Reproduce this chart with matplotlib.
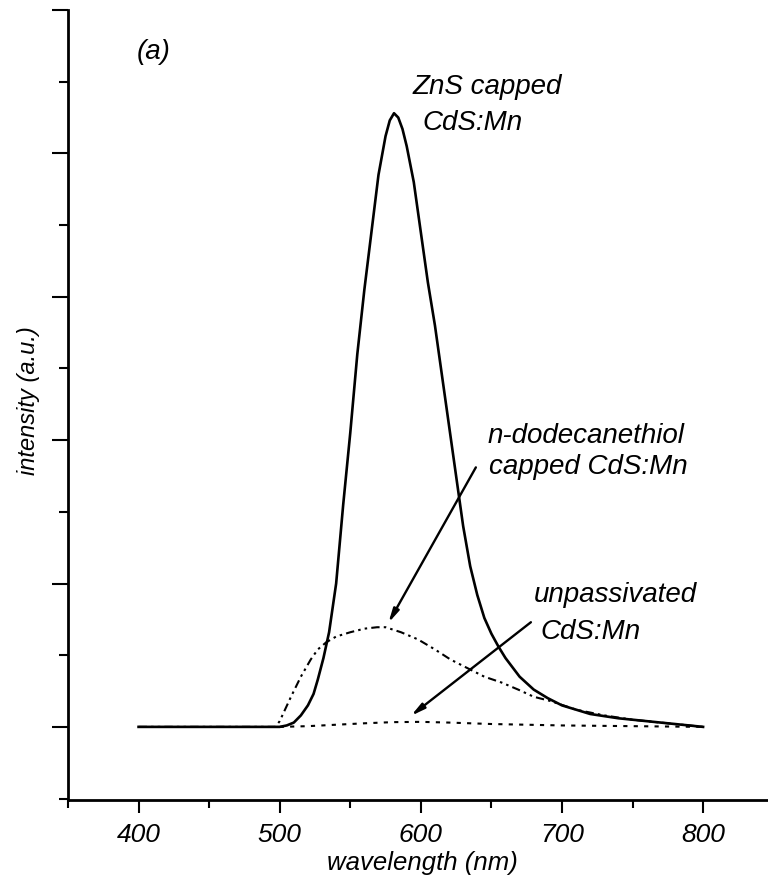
import numpy as np
import matplotlib
matplotlib.use("Agg")
import matplotlib.pyplot as plt
from matplotlib.ticker import MultipleLocator

plt.rcParams['font.family'] = ['Liberation Sans', 'DejaVu Sans']
plt.rcParams['font.style'] = 'italic'

# ZnS capped CdS:Mn (solid)
wl_zns = [400, 450, 500, 505, 510, 515, 520, 524, 527, 531, 535, 540, 545, 550, 555, 560, 565, 570,
          575, 578, 581, 584, 587, 590, 595, 600, 605, 610, 615, 620, 625, 630, 635, 640, 645, 650,
          655, 660, 670, 680, 690, 700, 720, 740, 760, 780, 800]
int_zns = [0, 0, 0, 0.01, 0.03, 0.08, 0.15, 0.23, 0.33, 0.48, 0.66, 1.0, 1.55, 2.05, 2.6, 3.05, 3.45, 3.85,
           4.12, 4.23, 4.28, 4.25, 4.17, 4.05, 3.8, 3.45, 3.1, 2.8, 2.45, 2.1, 1.75, 1.4, 1.12, 0.92, 0.76,
           0.65, 0.56, 0.48, 0.35, 0.26, 0.2, 0.15, 0.09, 0.06, 0.04, 0.02, 0.0]

# n-dodecanethiol capped CdS:Mn (dash-dot-dot)
wl_thiol = [400, 450, 497, 500, 508, 515, 522, 527, 533, 540, 550, 560, 569, 575, 586, 598, 610,
            621, 633, 645, 657, 669, 680, 692, 710, 730, 750, 770, 800]
int_thiol = [0, 0, 0, 0.04, 0.21, 0.35, 0.47, 0.54, 0.59, 0.63, 0.66, 0.685, 0.695, 0.695, 0.66, 0.61, 0.54,
             0.47, 0.41, 0.35, 0.31, 0.26, 0.21, 0.18, 0.12, 0.08, 0.05, 0.03, 0.0]

# unpassivated CdS:Mn (dotted)
wl_unp = [500, 520, 540, 560, 580, 600, 620, 650, 700, 750, 800]
int_unp = [0, 0.005, 0.015, 0.025, 0.033, 0.035, 0.03, 0.02, 0.01, 0.005, 0.0]

fig = plt.figure(figsize=(7.68, 8.82), dpi=100)
ax = fig.add_axes([68 / 768, 1 - 800 / 882, 700 / 768, 790 / 882])

ax.plot(wl_zns, int_zns, color='black', lw=1.9, solid_joinstyle='round')
ax.plot(wl_thiol, int_thiol, color='black', lw=1.5, dashes=(4, 2, 1.2, 2, 1.2, 2))
ax.plot(wl_unp, int_unp, color='black', lw=1.5, dashes=(2, 3))

ax.set_xlim(350, 846)
ax.set_ylim(-0.51, 5.0)

ax.xaxis.set_major_locator(MultipleLocator(100))
ax.xaxis.set_minor_locator(MultipleLocator(50))
ax.yaxis.set_major_locator(MultipleLocator(1))
ax.yaxis.set_minor_locator(MultipleLocator(0.5))
ax.set_yticklabels([])
ax.tick_params(axis='y', which='major', length=11.5, width=1.5, direction='out')
ax.tick_params(axis='y', which='minor', length=6.5, width=1.5, direction='out')
ax.tick_params(axis='x', which='major', length=9.4, width=1.5, direction='out', pad=7,
               labelsize=19)
ax.tick_params(axis='x', which='minor', length=5.8, width=1.5, direction='out')

for s in ['top', 'right']:
    ax.spines[s].set_visible(False)
for s in ['left', 'bottom']:
    ax.spines[s].set_linewidth(2.0)

ax.set_xlabel('wavelength (nm)', fontsize=18.5)
ax.xaxis.set_label_coords(0.506, -0.064)
ax.set_ylabel('intensity (a.u.)', fontsize=17)
ax.yaxis.set_label_coords(-0.04, 0.506)

fs = 20
ax.text(399, 4.71, '(a)', fontsize=fs, va='center', ha='left')
ax.text(594, 4.46, 'ZnS capped', fontsize=fs, va='center', ha='left')
ax.text(601, 4.21, 'CdS:Mn', fontsize=fs, va='center', ha='left')
ax.text(647, 2.03, 'n-dodecanethiol', fontsize=fs, va='center', ha='left')
ax.text(648, 1.81, 'capped CdS:Mn', fontsize=fs, va='center', ha='left')
ax.text(680, 0.92, 'unpassivated', fontsize=fs, va='center', ha='left')
ax.text(685, 0.66, 'CdS:Mn', fontsize=fs, va='center', ha='left')

arrow_kw = dict(arrowstyle='-|>,head_length=0.8,head_width=0.18', color='black', lw=1.7,
                shrinkA=0, shrinkB=0)
ax.annotate('', xy=(577, 0.725), xytext=(639, 1.81), arrowprops=arrow_kw)
ax.annotate('', xy=(593, 0.077), xytext=(678, 0.73), arrowprops=arrow_kw)

fig.savefig('out.png', dpi=100)
